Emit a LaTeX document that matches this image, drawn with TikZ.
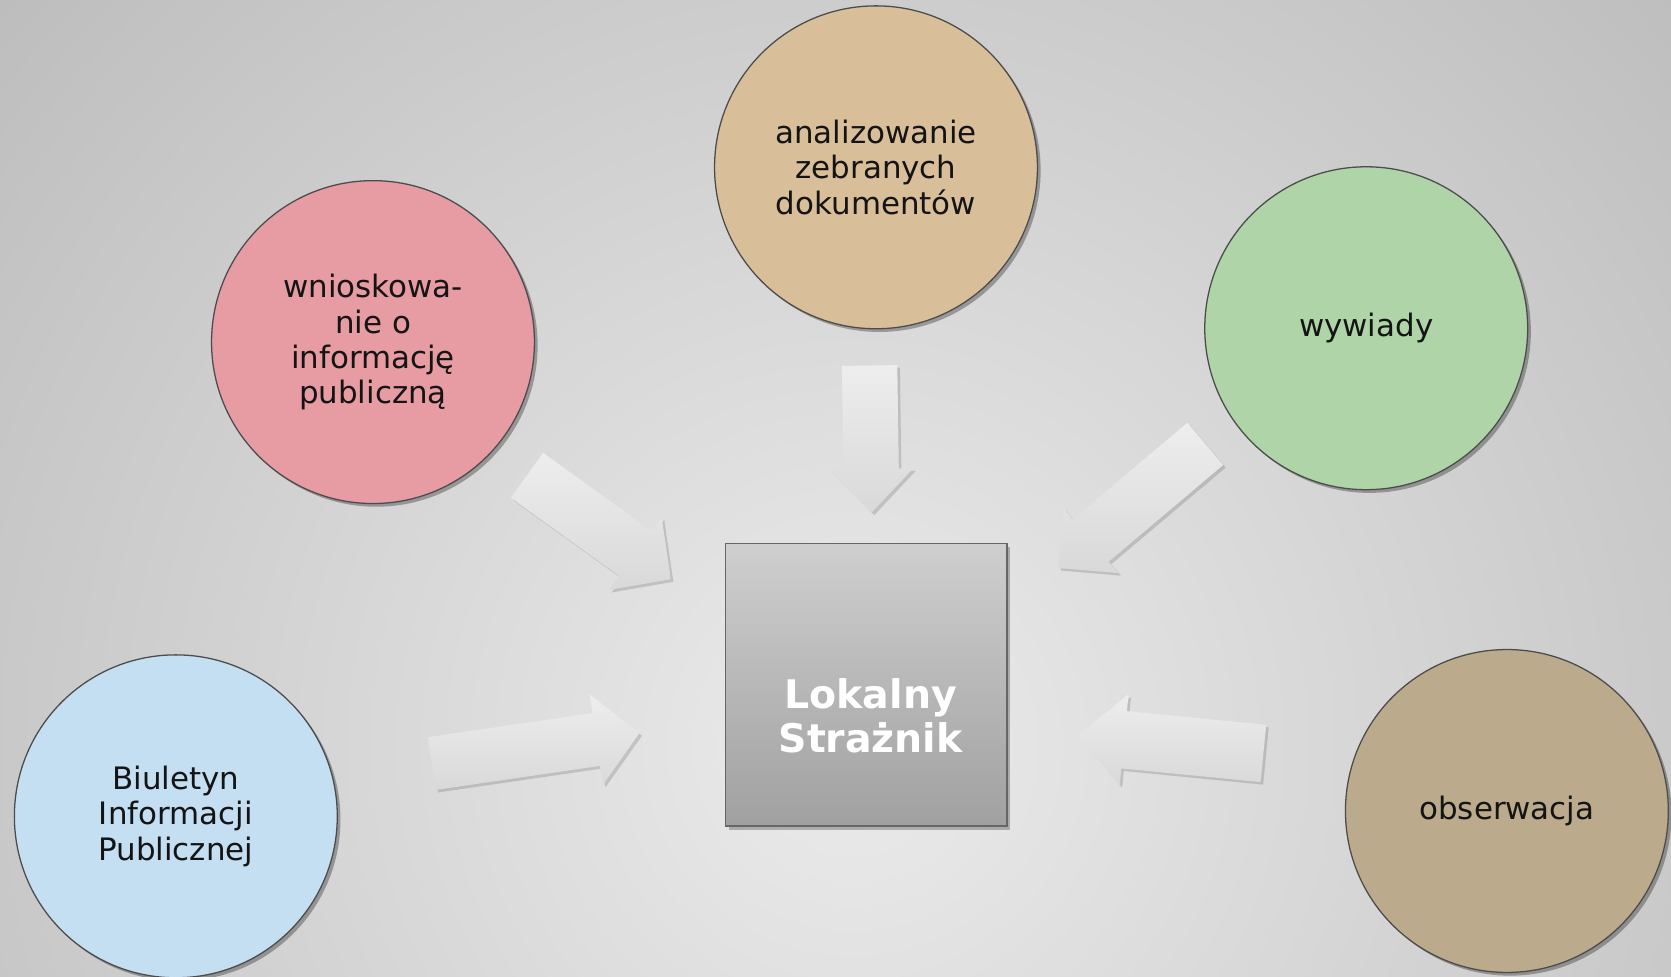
\documentclass[tikz,border=0pt]{standalone}
\usepackage{fontspec}
\setmainfont{DejaVu Sans}
\usetikzlibrary{calc,shadows}
\definecolor{bgin}{HTML}{EBEBEB}
\definecolor{bgout}{HTML}{8C8C8C}
\definecolor{ctan}{HTML}{D9BF99}
\definecolor{cpink}{HTML}{E79CA4}
\definecolor{cgreen}{HTML}{AED4A8}
\definecolor{cblue}{HTML}{C4DFF2}
\definecolor{cbrown}{HTML}{BBAB8C}
\definecolor{txt}{HTML}{141414}
\pgfdeclareradialshading{bgshade}{\pgfpoint{0bp}{0bp}}{color(0bp)=(bgin); color(50bp)=(bgout)}
\tikzset{
  circ/.style={circle, draw=black!70, line width=0.6pt, minimum size=151.5pt, inner sep=0pt,
    align=center, text=txt, font=\fontsize{14.5}{16.5}\selectfont,
    drop shadow={shadow xshift=1.5pt, shadow yshift=-1.5pt, opacity=0.3, fill=black}},
  blockarr/.style={top color=white!93!black, bottom color=white!85!black,
    drop shadow={shadow xshift=1.2pt, shadow yshift=-1.2pt, opacity=0.14, fill=black}},
}
\newcommand\blockarrow[5]{%
  \coordinate (#1h) at ($(#2)!#5!(#1)$);
  \path[blockarr] ($(#1)!#3!90:(#2)$) -- ($(#1h)!#3!90:(#2)$) -- ($(#1h)!#4!90:(#2)$) -- (#2)
    -- ($(#1h)!#4!-90:(#2)$) -- ($(#1h)!#3!-90:(#2)$) -- ($(#1)!#3!-90:(#2)$) -- cycle;}
\begin{document}
\begin{tikzpicture}[x=0.5pt,y=-0.5pt]
\useasboundingbox (0,0) rectangle (1568,916);
\begin{scope}
  \clip (0,0) rectangle (1568,916);
  \shade[shading=bgshade] (800,700) circle[radius=1100];
\end{scope}

% circles
\node[circ, fill=ctan]   (docs) at (822,157) {analizowanie\\zebranych\\dokumentów};
\node[circ, fill=cpink]  (wnio) at (350,321) {wnioskowa-\\nie o\\informację\\publiczną};
\node[circ, fill=cgreen] (wyw)  at (1282,308) {wywiady};
\node[circ, fill=cblue]  (bip)  at (165,766) {Biuletyn\\Informacji\\Publicznej};
\node[circ, fill=cbrown] (obs)  at (1414,761) {obserwacja};

% central box
\node[draw=black!60, line width=0.6pt, top color=white!81!black, bottom color=white!63!black,
      minimum width=132pt, minimum height=132.5pt, inner sep=0pt,
      drop shadow={shadow xshift=1.5pt, shadow yshift=-1.8pt, opacity=0.25, fill=black}] (box) at (813,642.5) {};
\node[text=white, align=center, font=\bfseries\fontsize{18.5}{20.5}\selectfont] (boxtxt) at (817,671.5) {Lokalny\\Strażnik};

% arrows
\coordinate (ta) at (816,343);   \coordinate (pa) at (818,481);
\coordinate (tb) at (494.5,446); \coordinate (pb) at (629.5,543.5);
\coordinate (tc) at (1131,416.5);\coordinate (pc) at (993,533);
\coordinate (td) at (405,716.5); \coordinate (pd) at (600,688);
\coordinate (te) at (1185.5,707);\coordinate (pe) at (1012,690);
\blockarrow{ta}{pa}{13pt}{19.75pt}{20.5pt}
\blockarrow{tb}{pb}{13pt}{21pt}{20.5pt}
\blockarrow{tc}{pc}{13pt}{20pt}{20pt}
\blockarrow{td}{pd}{12.5pt}{21.5pt}{20.5pt}
\blockarrow{te}{pe}{13.5pt}{21.5pt}{21.5pt}
\end{tikzpicture}
\end{document}
